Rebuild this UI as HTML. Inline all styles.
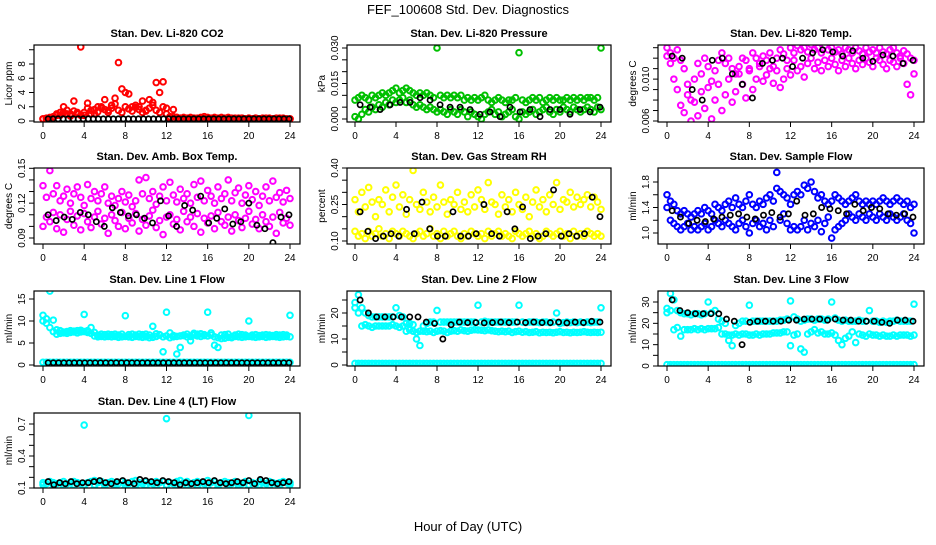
<!DOCTYPE html>
<html><head><meta charset="utf-8"><style>
body{margin:0;background:#fff;}
svg text{font-family:"Liberation Sans",Arial,sans-serif;}
</style></head><body>
<svg id="fig" width="936" height="540" viewBox="0 0 936 540" xmlns="http://www.w3.org/2000/svg">
<text x="468" y="14" text-anchor="middle" font-size="13">FEF_100608  Std. Dev. Diagnostics</text>
<text x="468" y="531" text-anchor="middle" font-size="13">Hour of Day (UTC)</text>
</svg>
<script>
// ---- data (hours 0..24, evenly spaced samples) ----
const co2A=[0.3,0.4,0.3,0.5,0.8,1.2,2.0,1.5,1.0,2.8,1.2,10.4,0.8,2.5,1.0,1.6,2.0,1.8,3.0,1.5,2.2,3.2,8.2,4.5,4.0,3.8,2.0,2.2,2.0,2.8,1.5,3.0,2.2,5.4,4.0,5.5,1.8,0.6,1.6,0.5,0.4,0.5,0.4,0.5,0.4,0.4,0.5,0.6,0.5,0.4,0.5,0.4,0.5,0.4,0.5,0.4,0.3,0.4,0.4,0.3,0.4,0.3,0.4,0.3,0.3,0.4,0.3,0.3,0.3,0.4,0.3,0.3,0.3];
const co2B=[0.3,0.3,0.5,0.6,1.0,0.8,1.2,1.0,0.7,1.4,1.0,0.8,1.2,1.8,1.5,1.0,1.3,2.0,1.6,1.2,1.8,2.4,1.5,1.2,2.0,1.7,1.4,1.9,1.6,1.2,1.4,1.8,2.6,1.5,1.2,2.0,1.0,0.4,0.6,0.5,0.4,0.3,0.4,0.3,0.4,0.3,0.4,0.3,0.4,0.3,0.4,0.3,0.4,0.3,0.4,0.3,0.4,0.3,0.4,0.3,0.4,0.3,0.4,0.3,0.4,0.3,0.4,0.3,0.4,0.3,0.4,0.3,0.3];
const co2K=[0.3,0.3,0.3,0.3,0.3,0.3,0.3,0.3,0.3,0.3,0.3,0.3,0.3,0.3,0.3,0.3,0.3,0.3,0.3,0.3,0.3,0.3,0.3,0.3,0.3,0.3,0.3,0.3,0.3,0.3,0.3,0.3,0.3,0.3,0.3,0.3,0.3,0.3,0.3,0.3,0.3,0.3,0.3,0.3,0.3,0.3,0.3,0.3,0.3];
const prA=[.008,.009,.010,.009,.008,.010,.009,.010,.011,.010,.011,.012,.013,.011,.012,.013,.012,.011,.010,.011,.010,.011,.010,.009,.030,.010,.009,.010,.009,.010,.009,.010,.008,.009,.008,.009,.008,.009,.010,.008,.007,.008,.009,.008,.007,.008,.008,.009,.028,.008,.007,.008,.009,.008,.009,.007,.008,.009,.008,.009,.008,.008,.009,.008,.009,.008,.009,.008,.009,.009,.008,.009,.030];
const prB=[.001,.000,.002,.004,.003,.005,.004,.006,.005,.007,.006,.008,.007,.008,.009,.007,.008,.006,.005,.006,.005,.004,.005,.004,.003,.004,.003,.002,.004,.003,.002,.004,.003,.001,.003,.002,.001,.000,.002,.003,.004,.002,.003,.001,.002,.003,.004,.001,.000,.003,.002,.003,.004,.002,.003,.004,.005,.003,.002,.004,.003,.005,.004,.003,.005,.004,.003,.004,.005,.004,.003,.005,.004];
const prK=[.006,.005,.004,.006,.007,.007,.009,.008,.006,.005,.005,.004,.002,.003,.001,.005,.003,.004,.001,.004,.004,.002,.004,.003,.005];
const ltA=[.0130,.0125,.0120,.0128,.0118,.0110,.0095,.0080,.0100,.0115,.0105,.0120,.0112,.0098,.0108,.0118,.0125,.0115,.0120,.0110,.0105,.0112,.0120,.0118,.0110,.0125,.0120,.0115,.0122,.0118,.0125,.0112,.0120,.0128,.0124,.0118,.0130,.0125,.0132,.0128,.0130,.0126,.0133,.0128,.0130,.0125,.0132,.0128,.0130,.0126,.0128,.0124,.0130,.0128,.0125,.0130,.0127,.0124,.0130,.0126,.0128,.0125,.0130,.0126,.0124,.0128,.0130,.0125,.0122,.0127,.0124,.0120,.0118];
const ltB=[.0122,.0115,.0100,.0090,.0075,.0068,.0085,.0060,.0078,.0065,.0088,.0072,.0092,.0062,.0080,.0095,.0070,.0085,.0100,.0078,.0088,.0105,.0095,.0082,.0108,.0090,.0100,.0112,.0098,.0104,.0110,.0096,.0108,.0092,.0100,.0110,.0104,.0118,.0108,.0112,.0102,.0115,.0120,.0110,.0116,.0108,.0118,.0112,.0120,.0114,.0108,.0118,.0112,.0120,.0115,.0110,.0118,.0114,.0120,.0116,.0112,.0120,.0118,.0114,.0110,.0118,.0116,.0112,.0120,.0115,.0095,.0085,.0105];
const ltK=[.0122,.0120,.0090,.0080,.0118,.0120,.0105,.0095,.0082,.0115,.0118,.0120,.0112,.0120,.0125,.0128,.0126,.0122,.0127,.0120,.0117,.0123,.0122,.0115,.0118];
const abA=[.135,.125,.148,.128,.135,.122,.126,.132,.120,.128,.134,.125,.118,.136,.124,.130,.122,.128,.134,.120,.126,.118,.124,.130,.121,.127,.117,.122,.140,.128,.142,.124,.130,.119,.126,.134,.122,.138,.127,.121,.132,.124,.128,.120,.136,.125,.139,.122,.131,.126,.120,.134,.124,.128,.140,.122,.129,.133,.120,.127,.135,.123,.130,.118,.126,.134,.122,.139,.125,.129,.121,.131,.124];
const abB=[.100,.108,.104,.112,.098,.110,.095,.106,.113,.101,.109,.097,.111,.104,.099,.108,.113,.102,.107,.094,.110,.105,.100,.112,.098,.107,.103,.111,.096,.106,.101,.109,.114,.099,.105,.093,.108,.110,.102,.106,.097,.113,.104,.108,.100,.111,.095,.107,.103,.109,.098,.112,.104,.101,.108,.096,.110,.105,.099,.107,.113,.102,.106,.098,.110,.104,.100,.108,.094,.112,.103,.107,.101];
const abK=[.110,.105,.108,.106,.112,.110,.104,.100,.116,.112,.109,.110,.107,.103,.122,.109,.100,.118,.114,.126,.103,.107,.115,.102,.104,.120,.101,.098,.086,.108,.110];
const rhA=[.27,.22,.30,.24,.32,.26,.20,.27,.25,.31,.22,.28,.33,.24,.29,.21,.27,.39,.25,.23,.30,.26,.22,.28,.24,.33,.26,.21,.27,.25,.30,.23,.26,.22,.29,.24,.31,.27,.23,.34,.26,.25,.21,.29,.24,.27,.22,.30,.25,.23,.28,.20,.26,.31,.24,.27,.22,.29,.25,.34,.23,.27,.26,.30,.24,.28,.25,.27,.29,.24,.28,.26,.23];
const rhB=[.14,.12,.13,.11,.14,.12,.13,.15,.12,.13,.11,.14,.13,.12,.14,.13,.12,.11,.13,.14,.12,.13,.15,.12,.13,.11,.14,.12,.13,.14,.12,.11,.13,.12,.14,.13,.12,.13,.11,.14,.12,.13,.14,.12,.13,.12,.11,.14,.13,.12,.13,.14,.12,.13,.11,.12,.14,.13,.12,.13,.14,.12,.13,.11,.14,.12,.13,.12,.14,.13,.12,.13,.12];
const rhK=[.22,.14,.11,.12,.13,.12,.23,.13,.26,.15,.12,.12,.22,.12,.12,.13,.25,.13,.12,.22,.15,.24,.11,.12,.13,.31,.12,.13,.12,.13,.28,.20];
const sfA=[1.6,1.5,1.45,1.35,1.3,1.35,1.3,1.25,1.3,1.35,1.3,1.4,1.35,1.3,1.45,1.4,1.35,1.45,1.5,1.4,1.55,1.45,1.4,1.5,1.6,1.45,1.4,1.5,1.45,1.55,1.6,1.5,1.7,1.65,1.6,1.55,1.45,1.6,1.65,1.6,1.75,1.7,1.8,1.65,1.55,1.6,1.5,1.45,1.5,1.6,1.55,1.5,1.45,1.5,1.55,1.6,1.5,1.45,1.5,1.45,1.5,1.45,1.5,1.55,1.5,1.45,1.5,1.55,1.5,1.45,1.5,1.4,1.45];
const sfB=[1.4,1.2,1.15,1.1,1.05,1.1,1.15,1.05,1.1,1.05,1.1,1.15,1.05,1.1,1.2,1.15,1.1,1.2,1.15,1.1,1.05,1.15,1.2,1.1,1.0,1.15,1.2,1.1,1.15,1.05,1.2,1.1,1.95,1.2,1.3,1.15,1.05,1.1,1.05,1.1,1.2,1.05,1.15,1.1,1.2,1.02,1.15,1.25,0.92,1.05,1.1,1.15,1.2,1.3,1.25,1.2,1.3,1.25,1.2,1.3,1.25,1.2,1.3,1.25,1.2,1.3,1.25,1.2,1.25,1.3,1.2,1.15,1.0];
const sfK=[1.35,1.25,1.15,1.2,1.18,1.22,1.25,1.28,1.3,1.25,1.22,1.28,1.32,1.25,1.3,1.5,1.28,1.3,1.4,1.38,1.35,1.3,1.45,1.35,1.4,1.38,1.3,1.28,1.3,1.25];
const l1A=[11.3,10.5,16.8,10.2,8,7.8,7.5,7.6,7.8,7.7,7.8,7.9,11.5,7.8,8.5,7.4,6.8,7.0,6.9,7.0,6.9,7.0,6.8,7.0,11.2,6.9,7.0,6.8,7.0,6.9,7.0,6.8,8.8,7.1,6.9,3.0,12.0,7.3,6.7,2.5,4.0,6.8,7.0,5.5,7.2,7.0,7.1,6.9,12.0,7.3,4.5,4.0,6.8,6.9,7.0,6.2,6.8,7.0,6.9,6.8,10.0,6.8,6.9,6.7,6.8,6.9,6.8,6.7,6.9,6.8,6.9,6.8,11.3];
const l1B=[10,9.5,8.5,7.6,7.0,7.2,7.3,7.2,7.4,7.5,7.3,7.5,7.6,7.4,7.2,6.6,6.4,6.5,6.4,6.5,6.4,6.5,6.3,6.4,6.5,6.4,6.3,6.5,6.4,6.3,6.4,6.2,6.3,6.5,6.8,6.4,6.6,6.2,6.4,6.5,6.6,6.7,6.4,6.5,6.8,6.6,6.5,6.7,6.6,6.8,6.4,6.2,6.0,6.1,6.3,6.4,6.5,6.4,6.3,6.4,6.5,6.4,6.3,6.4,6.5,6.3,6.4,6.5,6.4,6.3,6.4,6.5,6.4];
const zeroC=[0.6,0.6,0.6,0.6,0.6,0.6,0.6,0.6,0.6,0.6,0.6,0.6,0.6,0.6,0.6,0.6,0.6,0.6,0.6,0.6,0.6,0.6,0.6,0.6,0.6,0.6,0.6,0.6,0.6,0.6,0.6,0.6,0.6,0.6,0.6,0.6,0.6,0.6,0.6,0.6,0.6,0.6,0.6,0.6,0.6,0.6,0.6,0.6,0.6,0.6,0.6,0.6,0.6,0.6,0.6,0.6,0.6,0.6,0.6,0.6,0.6,0.6,0.6,0.6,0.6,0.6,0.6,0.6,0.6,0.6,0.6,0.6,0.6];
const l1K=[0.5,0.5,0.5,0.5,0.5,0.5,0.5,0.5,0.5,0.5,0.5,0.5,0.5,0.5,0.5,0.5,0.5,0.5,0.5,0.5,0.5,0.5,0.5,0.5,0.5,0.5,0.5,0.5,0.5,0.5,0.5,0.5,0.5,0.5,0.5,0.5,0.5,0.5,0.5,0.5,0.5,0.5,0.5,0.5,0.5,0.5,0.5];
const l2A=[24,27,22,20,19,18.5,18.5,18.5,18.5,18.5,18.5,18.5,22,19,18.5,16,16,15.5,10,7.5,15,16,16.5,16.5,21,16.5,16.5,16.5,16.5,16.5,16.5,16.5,16.5,16.5,16.5,16.5,23,16.5,16.8,16.5,16.5,16.5,16.5,16.5,16.5,16.5,16.5,16.5,23,16.5,16.3,16.5,16.5,16.5,16.3,16.5,16.5,16.3,16.5,20,16,16.3,16.5,16.3,16.5,16.3,16.5,16.3,16.5,16.3,16.5,16.5,22];
const l2B=[22,20,15,15.5,15,14.5,15,15,15,15,15,15.5,15,14.5,15,13,13.5,13,12.5,13,13,12.8,13,12.5,13,13.2,13,12.5,13,13.2,13,13.5,13.2,13,13.4,13.6,13.5,13.4,13.2,13.5,13.2,13,12.8,13,12.8,13,12.5,12.8,13,12.6,12.8,12.5,12.6,12.8,12.4,12.6,12.5,12.6,12.4,12.6,12.8,12.5,12.6,12.4,12.6,12.5,12.6,12.8,12.6,12.5,12.6,12.5,12.6];
const l2K=[25,20,18.5,18.5,18.5,18.5,18.5,18.5,16.5,16,10,15.5,16.5,16.3,16.3,16.2,16.3,16.5,16.3,16.5,16.3,16.5,16.3,16.3,16.5,16.2,16.5,16.3,16.8,16.5];
const l3A=[27,34,31,26,25,24.5,24.5,24,24.5,24.5,24,24.5,30,25,26,22,21,20,12,9.5,19,20,21,21,28.5,21,21,21,21,21,21,21,21,21.5,21.5,22,30.5,23,22,21,21.5,22,22,21.5,22,22,21.5,22,30,22.5,21.5,21,21.5,21,21,21,21.5,21,21,26,21,21,20.5,21,20.5,21,21,21.5,21,21,21,21,29];
const l3B=[25,26,17,18,14,17,17,17,17.5,17,17.5,17,17.5,17.5,17.5,18,15,15,14.5,14.5,15,14.5,15,15,14.5,14.5,15,14.5,15,15,15,15.5,15.5,15.5,16,16,9.5,14.5,15,8,6.5,15,16,17,15.5,16,15,15,15.5,14.5,12,10,13,14,16,11,15,14.5,14,15,14.5,14.5,14,14.5,14,14,14.5,14,14.5,14.5,14.5,14,14.5];
const l3K=[31,26,25,24.5,24.5,24.5,24.5,22,21,10,20.5,21,21,21,21,21.5,21.5,22,22,22,21.5,22,21.5,21.5,21,21,21,20.5,20,21.5,21.5,21];
const l4A=[.15,.14,.16,.15,.14,.15,.16,.14,.15,.16,.15,.14,.69,.15,.16,.17,.15,.16,.14,.15,.16,.15,.14,.16,.15,.14,.16,.17,.15,.14,.16,.15,.14,.16,.15,.16,.75,.15,.14,.16,.17,.15,.16,.14,.15,.16,.15,.14,.17,.15,.16,.14,.15,.16,.15,.14,.16,.15,.14,.16,.78,.15,.14,.16,.15,.14,.16,.15,.14,.15,.16,.15,.15];
const l4B=[.13,.12,.13,.12,.13,.12,.13,.12,.13,.12,.13,.12,.13,.12,.13,.12,.13,.12,.13,.12,.13,.12,.13,.12,.13,.12,.13,.12,.13,.12,.13,.12,.13,.12,.13,.12,.13,.12,.13,.12,.13,.12,.13,.12,.13,.12,.13,.12,.13];
const l4K=[.16,.13,.15,.14,.16,.14,.15,.15,.16,.17,.15,.14,.16,.17,.15,.14,.18,.17,.16,.15,.17,.16,.15,.13,.15,.14,.15,.16,.15,.17,.15,.14,.15,.16,.15,.17,.14,.18,.17,.15,.14,.15,.16];
const xTicks=[0,4,8,12,16,20,24];

const C1=[34,300,43,290],C2=[347,611,355,601],C3=[658,924,667,914];
const R1=[45,122],R2=[168,244],R3=[291,366],R4=[413,488];
const panels=[
 {id:'co2',title:'Stan. Dev. Li-820 CO2',yl:'Licor ppm',c:C1,r:R1,ref:[0,121,8,64],ticks:[0,2,4,6,8,10],labs:['0','2','4','6','8'],ser:[[co2B,'#ff0000',0],[co2A,'#ff0000',0],[co2K,'#000',1]]},
 {id:'pressure',title:'Stan. Dev. Li-820 Pressure',yl:'kPa',c:C2,r:R1,ref:[0,119,0.03,48],ticks:[0,.005,.01,.015,.02,.025,.03],labs:['0.000','0.015','0.030'],lv:[0,.015,.03],ser:[[prB,'#00c000',0],[prA,'#00c000',0],[prK,'#000',1]]},
 {id:'li820-temp',title:'Stan. Dev. Li-820 Temp.',yl:'degrees C',c:C3,r:R1,ref:[0.006,121,0.013,47.7],ticks:[.006,.007,.008,.009,.010,.011,.012,.013],labs:['0.006','0.010'],lv:[.006,.010],ser:[[ltB,'#ff00ff',0],[ltA,'#ff00ff',0],[ltK,'#000',1]]},
 {id:'amb-box-temp',title:'Stan. Dev. Amb. Box Temp.',yl:'degrees C',c:C1,r:R2,ref:[0.09,238,0.15,168.3],ticks:[.09,.10,.11,.12,.13,.14,.15],labs:['0.09','0.12','0.15'],lv:[.09,.12,.15],ser:[[abB,'#ff00ff',0],[abA,'#ff00ff',0],[abK,'#000',1]]},
 {id:'gas-stream-rh',title:'Stan. Dev. Gas Stream RH',yl:'percent',c:C2,r:R2,ref:[0.10,241,0.40,168],ticks:[.10,.15,.20,.25,.30,.35,.40],labs:['0.10','0.25','0.40'],lv:[.10,.25,.40],ser:[[rhA,'#ffff00',0],[rhB,'#ffff00',0],[rhK,'#000',1]]},
 {id:'sample-flow',title:'Stan. Dev. Sample Flow',yl:'ml/min',c:C3,r:R2,ref:[1.0,233,1.8,182],ticks:[1.0,1.2,1.4,1.6,1.8],labs:['1.0','1.4','1.8'],lv:[1.0,1.4,1.8],ser:[[sfB,'#0000ff',0],[sfA,'#0000ff',0],[sfK,'#000',1]]},
 {id:'line1-flow',title:'Stan. Dev. Line 1 Flow',yl:'ml/min',c:C1,r:R3,ref:[0,365,15,299],ticks:[0,5,10,15],labs:['0','5','10','15'],ser:[[l1B,'#00ffff',0],[l1A,'#00ffff',0],[zeroC,'#00ffff',0],[l1K,'#000',1]]},
 {id:'line2-flow',title:'Stan. Dev. Line 2 Flow',yl:'ml/min',c:C2,r:R3,ref:[0,365,20,313],ticks:[0,5,10,15,20,25],labs:['0','10','20'],lv:[0,10,20],ser:[[l2B,'#00ffff',0],[l2A,'#00ffff',0],[zeroC,'#00ffff',0],[l2K,'#000',1]]},
 {id:'line3-flow',title:'Stan. Dev. Line 3 Flow',yl:'ml/min',c:C3,r:R3,ref:[0,366,30,302],ticks:[0,5,10,15,20,25,30],labs:['0','10','20','30'],lv:[0,10,20,30],ser:[[l3B,'#00ffff',0],[l3A,'#00ffff',0],[zeroC,'#00ffff',0],[l3K,'#000',1]]},
 {id:'line4-flow',title:'Stan. Dev. Line 4 (LT) Flow',yl:'ml/min',c:C1,r:R4,ref:[0.1,488,0.7,424],ticks:[.1,.2,.3,.4,.5,.6,.7],labs:['0.1','0.4','0.7'],lv:[.1,.4,.7],ser:[[l4B,'#00ffff',0],[l4A,'#00ffff',0],[l4K,'#000',1]]}
];
const NS='http://www.w3.org/2000/svg',svg=document.getElementById('fig');
function mk(t,a,p){const e=document.createElementNS(NS,t);for(const k in a)e.setAttribute(k,a[k]);(p||svg).appendChild(e);return e;}
panels.forEach(P=>{
 const [bx0,bx1,x0p,x24p]=P.c,[by0,by1]=P.r,[v1,p1,v2,p2]=P.ref;
 const X=h=>x0p+(x24p-x0p)*h/24, Y=v=>p1+(v-v1)*(p2-p1)/(v2-v1);
 const g=mk('g',{});
 
 
 const cp=mk('clipPath',{id:'cp-'+P.id},g);mk('rect',{x:bx0,y:by0,width:bx1-bx0,height:by1-by0},cp);
 const t=mk('text',{x:(bx0+bx1)/2,y:by0-8,'text-anchor':'middle','font-size':11,'font-weight':'bold'},g);t.textContent=P.title;
 
 
 const pts=mk('g',{'clip-path':'url(#cp-'+P.id+')'},g);
 
 
 P.ser.forEach(([arr,col,blk])=>{
  const n=arr.length, hs=blk?0.5:0, he=blk?23.9:24;
  arr.forEach((v,i)=>{
   const c=mk('circle',{cx:X(hs+(he-hs)*i/(n-1)),cy:Y(v),r:blk?2.6:2.8,fill:'none',stroke:col,'stroke-width':blk?1.7:2},pts);
   
   
  });
 });
 const box=mk('rect',{x:bx0,y:by0,width:bx1-bx0,height:by1-by0,fill:'none',stroke:'#000','stroke-width':1.2},g);
 
 
 const xa=mk('g',{},g);
 
 
 mk('line',{x1:X(0),x2:X(24),y1:by1,y2:by1,stroke:'#000'},xa);
 xTicks.forEach(h=>{mk('line',{x1:X(h),x2:X(h),y1:by1,y2:by1+5,stroke:'#000'},xa);
  const l=mk('text',{x:X(h),y:by1+17,'text-anchor':'middle','font-size':10},xa);l.textContent=h;});
 const ya=mk('g',{},g);
 
 
 const tv=P.ticks;
 mk('line',{x1:bx0,x2:bx0,y1:Y(tv[0]),y2:Y(tv[tv.length-1]),stroke:'#000'},ya);
 tv.forEach(v=>mk('line',{x1:bx0-5,x2:bx0,y1:Y(v),y2:Y(v),stroke:'#000'},ya));
 const lv=P.lv||P.labs.map(Number);
 P.labs.forEach((s,i)=>{const yy=Y(lv[i]),xx=bx0-9;
  const l=mk('text',{x:xx,y:yy,'text-anchor':'middle','font-size':10,transform:`rotate(-90 ${xx} ${yy})`},ya);l.textContent=s;});
 const yl=mk('text',{x:bx0-22,y:(by0+by1)/2,'text-anchor':'middle','font-size':10,transform:`rotate(-90 ${bx0-22} ${(by0+by1)/2})`},g);yl.textContent=P.yl;
 
 
});
</script>
</body></html>
